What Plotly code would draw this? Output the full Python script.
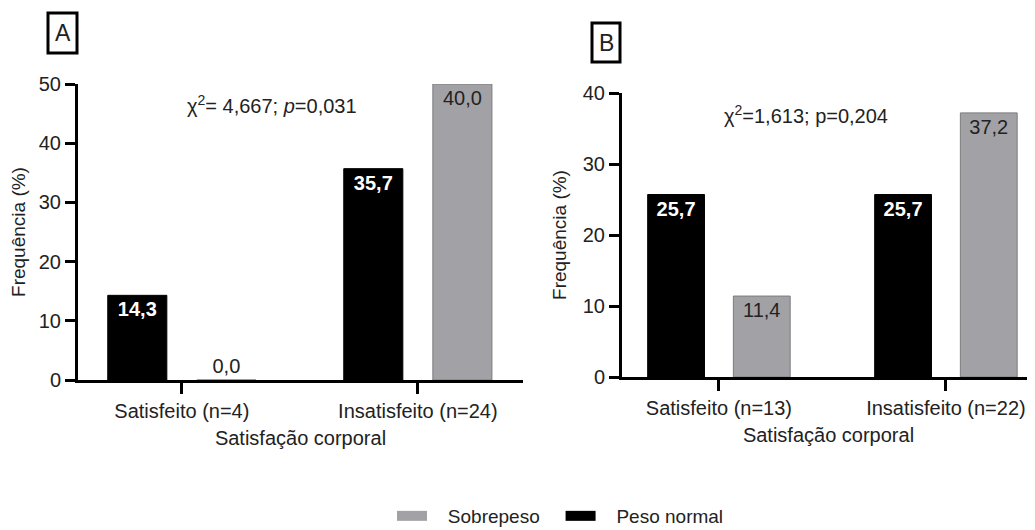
import plotly.graph_objects as go

# ---------------- data ----------------
categories_A = ["Satisfeito (n=4)", "Insatisfeito (n=24)"]
peso_normal_A = [14.3, 35.7]
sobrepeso_A = [0.0, 50.0]            # bar heights as drawn
sobrepeso_A_labels = ["0,0", "40,0"]  # labels as printed

categories_B = ["Satisfeito (n=13)", "Insatisfeito (n=22)"]
peso_normal_B = [25.7, 25.7]
sobrepeso_B = [11.4, 37.2]

y_ticks_A = [0, 10, 20, 30, 40, 50]
y_ticks_B = [0, 10, 20, 30, 40]

stat_A = "χ<sup>2</sup>= 4,667; <i>p</i>=0,031"
stat_B = "χ<sup>2</sup>=1,613; p=0,204"


def fmt(v):
    return f"{v:.1f}".replace(".", ",")


FONT = "Arial, 'Liberation Sans', sans-serif"
TXT = "#222222"
GRAY = "#a2a2a6"
GRAY_LINE = "#7c7c7c"
# the page body has an 8px margin; positions below are given in window pixels
OFF = 8
W, H = 1035 - OFF, 540


def px(x):
    return (x - OFF) / W


def py(y):
    return (H - (y - OFF)) / H


NB = "\u00a0"

# x-axis geometry (window pixels)
A_left, A_right, A_unit, A_start = 78, 523, 236, -0.44
B_left, B_right, B_unit, B_start = 622, OFF + W, 227, -0.427

fig = go.Figure()

# Panel A
fig.add_trace(go.Bar(
    x=categories_A, y=peso_normal_A, name="Peso normal",
    marker=dict(color="black", line=dict(color="black", width=1)),
    text=[f"<b>{fmt(v)}</b>" for v in peso_normal_A],
    textposition="inside", insidetextanchor="end",
    textfont=dict(color="white", size=20, family=FONT),
    xaxis="x", yaxis="y", showlegend=False, cliponaxis=False))
fig.add_trace(go.Bar(
    x=categories_A, y=sobrepeso_A, name="Sobrepeso",
    marker=dict(color=GRAY, line=dict(color=GRAY_LINE, width=1)),
    text=sobrepeso_A_labels,
    textposition=["outside", "inside"], insidetextanchor="end",
    insidetextfont=dict(color=TXT, size=20, family=FONT),
    outsidetextfont=dict(color=TXT, size=20, family=FONT),
    xaxis="x", yaxis="y", showlegend=False, cliponaxis=False))

# Panel B
fig.add_trace(go.Bar(
    x=categories_B, y=peso_normal_B, name="Peso normal",
    marker=dict(color="black", line=dict(color="black", width=1)),
    text=[f"<b>{fmt(v)}</b>" for v in peso_normal_B],
    textposition="inside", insidetextanchor="end",
    textfont=dict(color="white", size=20, family=FONT),
    xaxis="x2", yaxis="y2", showlegend=False, cliponaxis=False))
fig.add_trace(go.Bar(
    x=categories_B, y=sobrepeso_B, name="Sobrepeso",
    marker=dict(color=GRAY, line=dict(color=GRAY_LINE, width=1)),
    text=[fmt(v) for v in sobrepeso_B],
    textposition="inside", insidetextanchor="end",
    insidetextfont=dict(color=TXT, size=20, family=FONT),
    outsidetextfont=dict(color=TXT, size=20, family=FONT),
    xaxis="x2", yaxis="y2", showlegend=False, cliponaxis=False))

# legend entries (Sobrepeso first, then Peso normal)
fig.add_trace(go.Scatter(x=[None], y=[None], mode="lines",
                         name=NB * 3 + "Sobrepeso" + NB * 3,
                         line=dict(color=GRAY, width=10), xaxis="x", yaxis="y"))
fig.add_trace(go.Scatter(x=[None], y=[None], mode="lines",
                         name=NB * 3 + "Peso normal",
                         line=dict(color="black", width=10), xaxis="x", yaxis="y"))

axis_common = dict(showline=True, linecolor="black", linewidth=3,
                   ticks="outside", tickcolor="black", tickwidth=3,
                   showgrid=False, zeroline=False, automargin=False,
                   tickfont=dict(size=20, color=TXT, family=FONT))

fig.update_layout(
    width=W, height=H,
    margin=dict(l=0, r=0, t=0, b=0),
    paper_bgcolor="white", plot_bgcolor="white",
    font=dict(family=FONT, color=TXT, size=20),
    barmode="group", bargap=0.245, bargroupgap=0.337,
    xaxis=dict(domain=[px(A_left), px(A_right)], anchor="y",
               range=[A_start, A_start + (A_right - A_left) / A_unit],
               ticklen=11,
               title=dict(text="Satisfação corporal", font=dict(size=20), standoff=10),
               **axis_common),
    yaxis=dict(domain=[py(380), py(84)], anchor="x", range=[0, 50],
               tickvals=y_ticks_A, ticklen=10,
               title=dict(text="Frequência (%)", font=dict(size=19), standoff=12),
               **axis_common),
    xaxis2=dict(domain=[px(B_left), px(B_right)], anchor="y2",
                range=[B_start, B_start + (B_right - B_left) / B_unit],
                ticklen=11,
                title=dict(text="Satisfação corporal", font=dict(size=20), standoff=10),
                **axis_common),
    yaxis2=dict(domain=[py(377), py(93)], anchor="x2", range=[0, 40],
                tickvals=y_ticks_B, ticklen=10,
                title=dict(text="Frequência (%)", font=dict(size=19), standoff=12),
                **axis_common),
    legend=dict(orientation="h", x=px(392), xanchor="left",
                y=py(516), yanchor="middle",
                itemwidth=30, font=dict(size=19, color=TXT, family=FONT),
                bgcolor="rgba(0,0,0,0)"),
    annotations=[
        dict(text=stat_A, x=px(272), y=py(104), xref="paper", yref="paper",
             xanchor="center", yanchor="middle",
             showarrow=False, font=dict(size=20, color=TXT)),
        dict(text=stat_B, x=px(806), y=py(114), xref="paper", yref="paper",
             xanchor="center", yanchor="middle",
             showarrow=False, font=dict(size=20, color=TXT)),
        dict(text="A", x=px(62.5), y=py(33), xref="paper", yref="paper",
             xanchor="center", yanchor="middle",
             showarrow=False, font=dict(size=23, color=TXT)),
        dict(text="B", x=px(606), y=py(42.5), xref="paper", yref="paper",
             xanchor="center", yanchor="middle",
             showarrow=False, font=dict(size=23, color=TXT)),
    ],
    shapes=[
        dict(type="rect", xref="paper", yref="paper",
             x0=px(48), x1=px(77), y0=py(53), y1=py(13),
             line=dict(color="black", width=3)),
        dict(type="rect", xref="paper", yref="paper",
             x0=px(592), x1=px(620), y0=py(62), y1=py(23),
             line=dict(color="black", width=3)),
    ],
)

fig.write_html("out.html")
